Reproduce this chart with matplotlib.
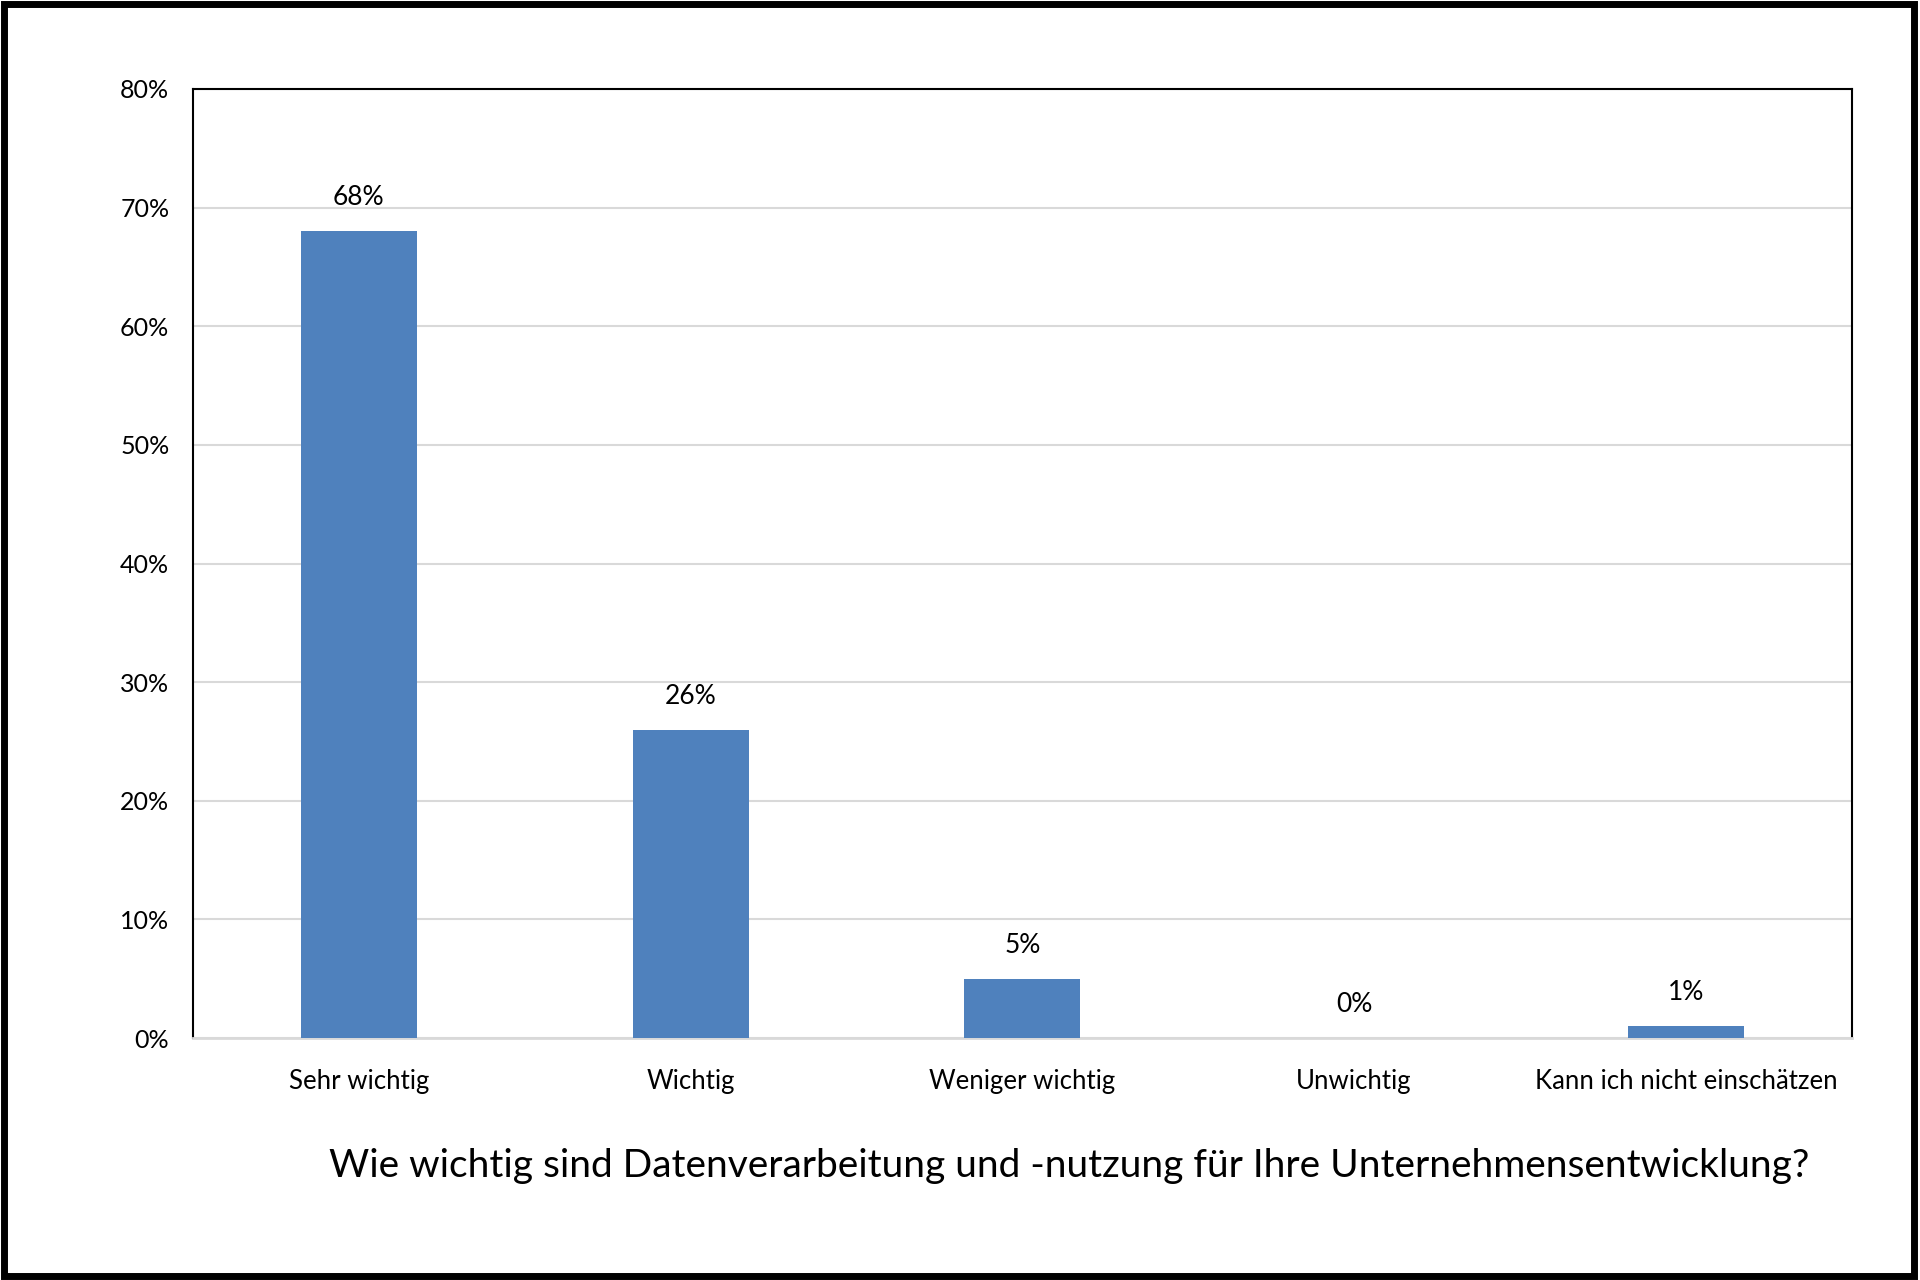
import matplotlib.pyplot as plt
from matplotlib.patches import Rectangle
from matplotlib.ticker import PercentFormatter

categories = ["Sehr wichtig", "Wichtig", "Weniger wichtig", "Unwichtig",
              "Kann ich nicht einschätzen"]
shares = [68, 26, 5, 0, 1]
y_ticks = [0, 10, 20, 30, 40, 50, 60, 70, 80]
title = "Wie wichtig sind Datenverarbeitung und -nutzung für Ihre Unternehmensentwicklung?"

plt.rcParams["font.family"] = ["Lato", "DejaVu Sans"]

fig = plt.figure(figsize=(19.2, 12.8), dpi=100)
ax = fig.add_axes([0.1005, 0.189, 0.864, 0.7415])

x = range(len(categories))
ax.bar(x, shares, width=0.35, color="#4f81bd", zorder=3)
for xi, v in zip(x, shares):
    ax.annotate(f"{v}%", (xi, v), xytext=(0, 24), textcoords="offset points",
                ha="center", va="center", fontsize=19)

ax.set_xlim(-0.5, len(categories) - 0.5)
ax.set_ylim(0, 80)
ax.set_yticks(y_ticks)
ax.yaxis.set_major_formatter(PercentFormatter(decimals=0))
ax.set_xticks(list(x))
ax.set_xticklabels(categories)
ax.tick_params(axis="both", length=0)
ax.tick_params(axis="y", pad=17, labelsize=18)
ax.tick_params(axis="x", pad=22, labelsize=18.5)
ax.grid(axis="y", color="#d9d9d9", linewidth=1.5, zorder=0)

for side in ("left", "top", "right"):
    ax.spines[side].set_color("black")
    ax.spines[side].set_linewidth(1.5)
ax.spines["bottom"].set_color("#d9d9d9")
ax.spines["bottom"].set_linewidth(2)

fig.text(0.557, 0.089, title, ha="center", va="center", fontsize=28)

# thick frame around the whole picture
fig.patches.append(Rectangle((0.002, 0.003), 0.995, 0.994, transform=fig.transFigure,
                             fill=False, edgecolor="black", linewidth=5))

fig.savefig("out.png", dpi=100)
